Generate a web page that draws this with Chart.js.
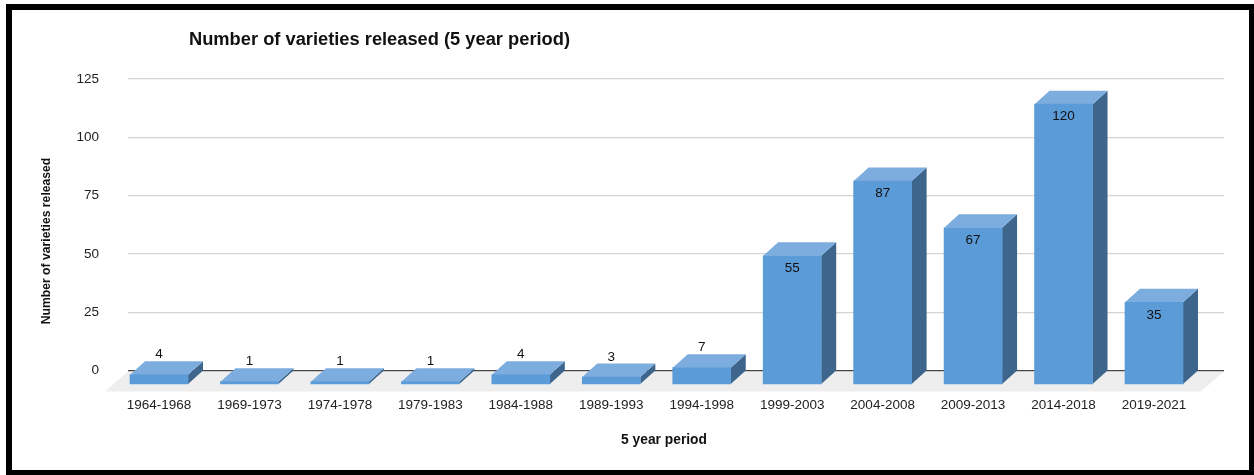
<!DOCTYPE html>
<html>
<head>
<meta charset="utf-8">
<title>Varieties released</title>
<script src="https://cdn.jsdelivr.net/npm/chart.js@4"></script>
<style>
  html, body { margin: 0; padding: 0; background: #fff; overflow: hidden; }
  #frame { position: fixed; left: 6px; top: 4px; right: 0; bottom: 0; border-style: solid; border-color: #000; border-width: 6px 5px 5px 6px; }
  #chart { position: fixed; left: 0; top: 0; }
</style>
</head>
<body>
<div id="frame"></div>
<canvas id="chart" width="1254" height="475"></canvas>
<script>
const periods = ["1964-1968", "1969-1973", "1974-1978", "1979-1983", "1984-1988", "1989-1993",
  "1994-1998", "1999-2003", "2004-2008", "2009-2013", "2014-2018", "2019-2021"];
const released = [4, 1, 1, 1, 4, 3, 7, 55, 87, 67, 120, 35];
const yTicks = [0, 25, 50, 75, 100, 125];

const FONT = '"Liberation Sans", Arial, sans-serif';
const DEPTH_X = 15;
const DEPTH_Y = 13.5;

function poly(ctx, color, pts) {
  ctx.fillStyle = color;
  ctx.beginPath();
  pts.forEach((p, i) => i ? ctx.lineTo(p[0], p[1]) : ctx.moveTo(p[0], p[1]));
  ctx.closePath();
  ctx.fill();
}

// floor, top and side faces of the bars, value labels and the axis titles
const boxes = {
  id: "boxes",
  afterLayout(chart) {
    chart.titleBlock.left = 189;
  },
  beforeDatasetsDraw(chart) {
    const ctx = chart.ctx;
    const zero = chart.scales.y.getPixelForValue(0);
    const area = chart.chartArea;
    poly(ctx, "#eeeeee", [
      [area.left, zero + 1], [area.right, zero + 1],
      [area.right - 23, zero + 21], [area.left - 23, zero + 21]
    ]);
    chart.getDatasetMeta(0).data.forEach(bar => {
      const l = bar.x - bar.width / 2;
      const r = bar.x + bar.width / 2;
      poly(ctx, "#3e668d", [[r, bar.y], [r + DEPTH_X, bar.y - DEPTH_Y], [r + DEPTH_X, bar.base - DEPTH_Y], [r, bar.base]]);
      poly(ctx, "#7cadde", [[l, bar.y], [l + DEPTH_X, bar.y - DEPTH_Y], [r + DEPTH_X, bar.y - DEPTH_Y], [r, bar.y]]);
    });
  },
  afterDatasetsDraw(chart) {
    const ctx = chart.ctx;
    ctx.save();
    ctx.fillStyle = "#111";
    ctx.textAlign = "center";
    ctx.textBaseline = "middle";
    ctx.font = "13.5px " + FONT;
    chart.getDatasetMeta(0).data.forEach((bar, i) => {
      const offset = released[i] < 10 ? -20 : 12.5;
      ctx.fillText(String(released[i]), bar.x, bar.y + offset);
    });

    ctx.font = "bold 13.8px " + FONT;
    ctx.fillText("5 year period", 664, 440);
    ctx.font = "bold 12.2px " + FONT;
    ctx.translate(46.5, 241);
    ctx.rotate(-Math.PI / 2);
    ctx.fillText("Number of varieties released", 0, 0);
    ctx.restore();
  }
};

new Chart(document.getElementById("chart"), {
  type: "bar",
  plugins: [boxes],
  data: {
    datasets: [{
      label: "Number of varieties released",
      data: released.map((v, i) => ({ x: i, y: v })),
      yAxisID: "yFront",
      backgroundColor: "#5b9bd7",
      borderWidth: 0,
      barThickness: 58,
      base: 0,
      clip: false
    }]
  },
  options: {
    responsive: false,
    animation: false,
    layout: { padding: { left: 0, right: 30, top: 0, bottom: 0 } },
    plugins: {
      legend: { display: false },
      tooltip: { enabled: false },
      title: {
        display: true,
        text: "Number of varieties released (5 year period)",
        align: "start",
        color: "#111",
        font: { family: FONT, size: 18.3, weight: "bold" },
        padding: { top: 29, bottom: 28 }
      }
    },
    scales: {
      x: {
        type: "linear",
        offset: false,
        min: -0.343,
        max: 11.774,
        afterFit: s => { s.height = 104.5; },
        grid: { display: false, offset: false },
        border: { display: false },
        ticks: {
          stepSize: 1,
          includeBounds: false,
          autoSkip: false,
          maxRotation: 0,
          padding: 19,
          color: "#222",
          font: { family: FONT, size: 13.5 },
          callback: v => periods[v]
        }
      },
      y: {
        min: 0,
        max: 125,
        afterFit: s => { s.width = 128; },
        afterBuildTicks: s => { s.ticks = yTicks.map(v => ({ value: v })); },
        grid: {
          drawTicks: false,
          color: c => c.tick.value === 0 ? "#444" : "#d4d4d4",
          lineWidth: c => c.tick.value === 0 ? 1.5 : 1.3
        },
        border: { display: false },
        ticks: { padding: 29, color: "#222", font: { family: FONT, size: 13.5 } }
      },
      // front faces sit lower than the back wall by the box depth
      yFront: {
        display: false,
        min: 5.79,
        max: 130.79
      }
    }
  }
});
</script>
</body>
</html>
